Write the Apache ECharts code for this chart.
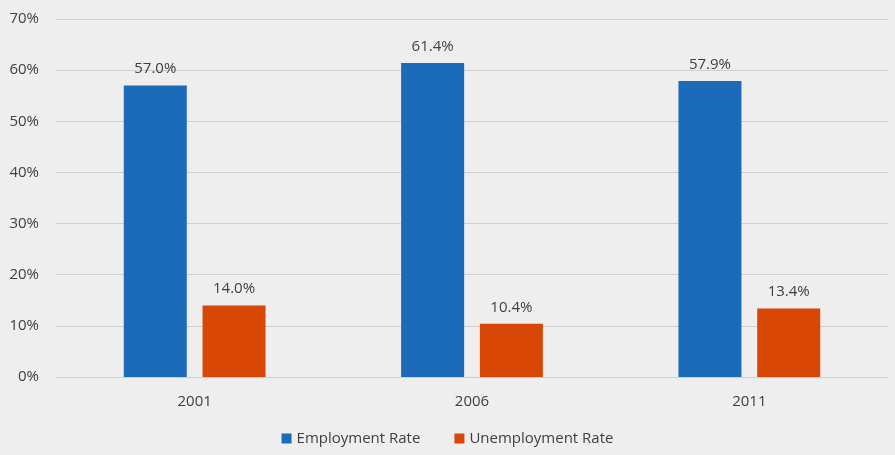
<!DOCTYPE html>
<html><head><meta charset="utf-8">
<script src="https://cdn.jsdelivr.net/npm/echarts@6/dist/echarts.min.js"></script>
<style>html,body{margin:0;padding:0;background:#eeeeee}#c{width:895px;height:455px}</style>
</head><body><div id="c"></div>
<script>
const categories = ['2001', '2006', '2011'];
const employment = [57.0, 61.4, 57.9];
const unemployment = [14.0, 10.4, 13.4];
const seriesNames = ['Employment Rate', 'Unemployment Rate'];
const colors = ['#1c6bb8', '#d84703'];
const font = '"Open Sans", "Noto Sans", sans-serif';
const chart = echarts.init(document.getElementById('c'));
const lbl = {show: true, position: 'top', distance: 9, color: '#404040', fontSize: 15, fontFamily: font, formatter: p => p.value.toFixed(1) + '%'};
chart.setOption({
  backgroundColor: '#eeeeee',
  animation: false,
  color: colors,
  grid: {left: 56, right: 7, top: 19, bottom: 78},
  legend: {bottom: 4, left: 'center', itemWidth: 10, itemHeight: 10, itemGap: 34, icon: 'rect',
    textStyle: {color: '#404040', fontSize: 15, fontFamily: font}},
  xAxis: {type: 'category', data: categories,
    axisLine: {lineStyle: {color: '#cfcfcf'}}, axisTick: {show: false},
    axisLabel: {color: '#404040', fontSize: 15, fontFamily: font, margin: 17}},
  yAxis: {type: 'value', min: 0, max: 70, interval: 10,
    axisLabel: {color: '#404040', fontSize: 15, fontFamily: font, formatter: '{value}%', margin: 17},
    splitLine: {lineStyle: {color: '#d0d0d0'}}},
  series: [
    {name: seriesNames[0], type: 'bar', data: employment, barWidth: 63, barGap: '25%', label: lbl},
    {name: seriesNames[1], type: 'bar', data: unemployment, barWidth: 63, label: lbl}
  ]
});
</script></body></html>
